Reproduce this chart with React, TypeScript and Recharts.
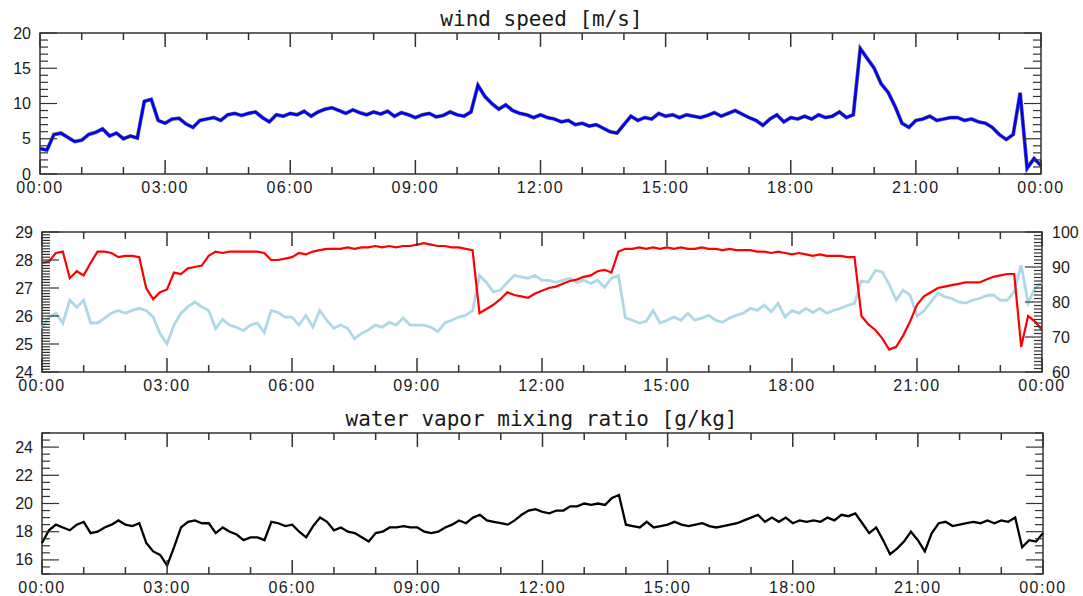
import React from 'react';
import { LineChart, Line, XAxis, YAxis, ReferenceArea } from 'recharts';

// 10-minute samples, 00:00 .. 24:00 (145 values each)
const windSpeed = [
  3.6, 3.4, 5.6, 5.8, 5.2, 4.6,
  4.8, 5.6, 5.9, 6.4, 5.4, 5.8,
  5.0, 5.4, 5.1, 10.3, 10.6, 7.6,
  7.2, 7.8, 7.9, 7.1, 6.6, 7.6,
  7.8, 8.0, 7.6, 8.4, 8.6, 8.3,
  8.6, 8.8, 8.0, 7.4, 8.4, 8.2,
  8.6, 8.4, 8.9, 8.2, 8.8, 9.2,
  9.4, 9.0, 8.6, 9.1, 8.7, 8.4,
  8.8, 8.5, 8.9, 8.2, 8.7, 8.4,
  8.0, 8.4, 8.6, 8.1, 8.3, 8.8,
  8.4, 8.2, 8.8, 12.6, 11.0, 10.0,
  9.2, 9.8, 9.0, 8.6, 8.4, 8.0,
  8.4, 8.0, 7.8, 7.4, 7.6, 7.0,
  7.2, 6.8, 7.0, 6.5, 6.0, 5.8,
  7.0, 8.2, 7.6, 8.0, 7.8, 8.6,
  8.2, 8.4, 8.0, 8.4, 8.2, 8.0,
  8.3, 8.7, 8.2, 8.6, 9.0, 8.5,
  8.0, 7.6, 6.9, 7.8, 8.4, 7.4,
  8.0, 7.8, 8.2, 7.8, 8.4, 8.0,
  8.2, 8.8, 8.0, 8.4, 17.8, 16.4,
  15.0, 12.8, 11.6, 9.6, 7.2, 6.6,
  7.6, 7.8, 8.2, 7.6, 7.8, 8.0,
  8.0, 7.6, 7.8, 7.4, 7.2, 6.6,
  5.6, 4.9, 5.6, 11.5, 0.8, 2.2,
  1.2,
];

const airTemp = [
  27.9, 27.95, 28.25, 28.3, 27.35, 27.6,
  27.45, 27.9, 28.3, 28.3, 28.25, 28.1,
  28.15, 28.15, 28.1, 27.0, 26.6, 26.85,
  26.95, 27.55, 27.5, 27.7, 27.75, 27.8,
  28.15, 28.3, 28.25, 28.3, 28.3, 28.3,
  28.3, 28.3, 28.25, 28.0, 28.0, 28.05,
  28.1, 28.25, 28.2, 28.3, 28.35, 28.4,
  28.4, 28.4, 28.45, 28.4, 28.45, 28.45,
  28.5, 28.45, 28.5, 28.45, 28.5, 28.5,
  28.55, 28.6, 28.55, 28.5, 28.5, 28.45,
  28.45, 28.4, 28.35, 26.1, 26.25, 26.4,
  26.6, 26.85, 26.75, 26.7, 26.65, 26.8,
  26.9, 27.0, 27.05, 27.15, 27.25, 27.3,
  27.4, 27.45, 27.6, 27.65, 27.55, 28.3,
  28.4, 28.4, 28.45, 28.4, 28.45, 28.4,
  28.45, 28.4, 28.45, 28.4, 28.4, 28.45,
  28.4, 28.4, 28.35, 28.4, 28.35, 28.35,
  28.35, 28.3, 28.3, 28.25, 28.3, 28.25,
  28.2, 28.25, 28.2, 28.15, 28.2, 28.15,
  28.15, 28.15, 28.1, 28.1, 26.0, 25.7,
  25.5, 25.2, 24.8, 24.9, 25.3, 25.8,
  26.4, 26.7, 26.85, 27.0, 27.05, 27.1,
  27.15, 27.2, 27.2, 27.2, 27.3, 27.4,
  27.45, 27.5, 27.5, 24.9, 26.0, 25.8,
  25.5,
];

const relHumidity = [
  72.5, 75.7, 76.8, 74.0, 80.5, 78.5,
  80.5, 74.0, 74.0, 75.4, 76.8, 77.6,
  76.8, 77.6, 78.2, 77.6, 75.7, 71.0,
  68.0, 73.4, 76.8, 78.6, 80.0, 78.6,
  77.6, 72.4, 75.0, 73.4, 72.8, 71.8,
  73.4, 74.0, 71.3, 77.6, 77.0, 75.7,
  75.7, 73.4, 76.2, 72.8, 77.6, 74.8,
  72.5, 73.4, 72.5, 69.5, 71.0, 72.0,
  73.4, 72.8, 74.2, 73.4, 75.4, 73.4,
  73.4, 73.4, 72.8, 71.5, 74.0, 74.8,
  75.7, 76.2, 77.5, 87.6, 85.6, 82.8,
  83.4, 85.6, 87.6, 87.2, 86.8, 87.6,
  86.2, 86.2, 85.6, 86.2, 86.8, 85.6,
  86.2, 85.3, 86.2, 84.2, 86.8, 87.6,
  75.5, 74.8, 74.0, 74.5, 77.5, 74.0,
  74.8, 75.7, 74.8, 76.8, 74.8, 75.4,
  76.2, 74.8, 74.2, 75.4, 76.2, 76.8,
  78.2, 77.6, 79.1, 77.2, 79.6, 75.7,
  77.6, 76.8, 78.2, 77.0, 78.2, 76.8,
  77.6, 78.2, 79.0, 79.6, 86.0, 85.7,
  89.0, 88.6, 85.0, 80.5, 83.4, 82.0,
  76.0, 77.5, 80.0, 82.5, 81.5, 81.0,
  80.0, 79.7, 80.5, 81.0, 81.8, 82.0,
  80.5, 80.5, 83.0, 90.5, 79.7, 84.0,
  85.4,
];

const mixingRatio = [
  17.2, 18.1, 18.5, 18.3, 18.1, 18.5,
  18.7, 17.9, 18.0, 18.3, 18.5, 18.8,
  18.5, 18.4, 18.6, 17.2, 16.6, 16.35,
  15.6, 16.9, 18.3, 18.7, 18.8, 18.6,
  18.6, 17.9, 18.3, 18.0, 17.8, 17.4,
  17.6, 17.6, 17.4, 18.7, 18.6, 18.4,
  18.5, 18.0, 17.6, 18.4, 19.0, 18.7,
  18.1, 18.3, 18.0, 17.9, 17.6, 17.3,
  17.9, 18.0, 18.3, 18.3, 18.4, 18.3,
  18.3, 18.0, 17.9, 18.0, 18.3, 18.5,
  18.8, 18.6, 19.0, 19.2, 18.8, 18.7,
  18.6, 18.5, 18.8, 19.2, 19.5, 19.6,
  19.4, 19.3, 19.5, 19.5, 19.8, 19.8,
  20.0, 19.9, 20.0, 19.9, 20.4, 20.6,
  18.5, 18.4, 18.3, 18.7, 18.3, 18.4,
  18.5, 18.7, 18.5, 18.4, 18.5, 18.6,
  18.4, 18.3, 18.4, 18.5, 18.6, 18.8,
  19.0, 19.2, 18.7, 19.0, 18.7, 19.0,
  18.6, 18.8, 18.7, 18.8, 18.7, 19.0,
  18.8, 19.2, 19.1, 19.3, 18.6, 17.9,
  18.3, 17.4, 16.4, 16.8, 17.3, 18.0,
  17.4, 16.6, 17.9, 18.6, 18.7, 18.4,
  18.5, 18.6, 18.7, 18.6, 18.8, 18.6,
  18.8, 18.7, 19.0, 16.9, 17.4, 17.3,
  17.9,
];

const STEP = 10; // minutes
const data = windSpeed.map((ws, i) => ({
  t: i * STEP,
  ws,
  temp: airTemp[i],
  rh: relHumidity[i],
  q: mixingRatio[i],
}));

const hourTicks = Array.from({ length: 25 }, (_, i) => i * 60);
const steps = (lo: number, hi: number, d: number) =>
  Array.from({ length: Math.round((hi - lo) / d) + 1 }, (_, i) => Math.round((lo + i * d) * 100) / 100);

const fmtTime = (m: number) => `${String(Math.floor(m / 60) % 24).padStart(2, '0')}:00`;

const W = 1083;
const FRAME = '#333';
const INK = '#1a1a1a';
const FONT = '"Liberation Sans", Arial, sans-serif';

const near = (v: number, step: number) => Math.abs(v / step - Math.round(v / step)) < 1e-6;

// bottom axis ticks drawn inward, mirrored on the top edge
const makeXTick = (plotTop: number) => (props: any) => {
  const { x, y, payload } = props;
  const major = payload.value % 180 === 0;
  const len = major ? 14 : 7;
  return (
    <g>
      <line x1={x} x2={x} y1={y} y2={y - len} stroke={FRAME} strokeWidth={1.5} />
      <line x1={x} x2={x} y1={plotTop} y2={plotTop + len} stroke={FRAME} strokeWidth={1.5} />
      {major && (
        <text x={x} y={y + 18.5} textAnchor="middle" fontSize={16} fontFamily={FONT} fill={INK} letterSpacing={1.5}>
          {fmtTime(payload.value)}
        </text>
      )}
    </g>
  );
};

interface YTickOpts {
  side: 'left' | 'right';
  major: number;
  label: number;
  mirrorX?: number;
  majorLen?: number;
  minorLen?: number;
}

const makeYTick = ({ side, major, label, mirrorX, majorLen = 17, minorLen = 8 }: YTickOpts) => (props: any) => {
  const { x, y, payload } = props;
  const v = payload.value;
  const len = near(v, major) ? majorLen : minorLen;
  const dir = side === 'left' ? 1 : -1;
  return (
    <g>
      <line x1={x} x2={x + dir * len} y1={y} y2={y} stroke={FRAME} strokeWidth={1.2} />
      {mirrorX !== undefined && (
        <line x1={mirrorX} x2={mirrorX - dir * len} y1={y} y2={y} stroke={FRAME} strokeWidth={1.2} />
      )}
      {near(v, label) && (
        <text
          x={side === 'left' ? x - 9 : x + 10}
          y={y + 5.5}
          textAnchor={side === 'left' ? 'end' : 'start'}
          fontSize={16}
          fontFamily={FONT}
          fill={INK}
        >
          {Math.round(v)}
        </text>
      )}
    </g>
  );
};

const titleStyle: React.CSSProperties = {
  position: 'absolute',
  left: 0,
  width: W,
  textAlign: 'center',
  fontFamily: '"DejaVu Sans Mono", monospace',
  fontSize: 21,
  lineHeight: '21px',
  color: INK,
};

const xAxisCommon = {
  dataKey: 't',
  type: 'number' as const,
  domain: [0, 1440],
  ticks: hourTicks,
  interval: 0 as const,
  tickLine: false,
  axisLine: false,
  tickSize: 0,
  tickMargin: 0,
};

export default function App() {
  return (
    <div style={{ position: 'absolute', left: 0, top: 0, width: W, height: 596, background: '#fff' }}>
      <div style={{ ...titleStyle, top: 9 }}>wind speed [m/s]</div>
      <div style={{ ...titleStyle, top: 409 }}>water vapor mixing ratio [g/kg]</div>

      {/* wind speed */}
      <div style={{ position: 'absolute', left: 0, top: 0 }}>
        <LineChart width={W} height={200} data={data} margin={{ top: 33, right: 42, bottom: 0, left: 0 }}>
          <XAxis {...xAxisCommon} height={26} tick={makeXTick(33)} />
          <YAxis
            type="number"
            domain={[0, 20]}
            ticks={steps(0, 20, 1)}
            interval={0}
            width={40}
            tickLine={false}
            axisLine={false}
            tickSize={0}
            tickMargin={0}
            tick={makeYTick({ side: 'left', major: 5, label: 5, mirrorX: W - 42 })}
          />
          <ReferenceArea x1={0} x2={1440} y1={0} y2={20} fill="none" stroke={FRAME} strokeWidth={1.5} />
          <Line dataKey="ws" stroke="#6f6f6f" strokeWidth={3.8} dot={false} activeDot={false} isAnimationActive={false} />
          <Line dataKey="ws" stroke="#0000ff" strokeWidth={2.6} dot={false} activeDot={false} isAnimationActive={false} />
        </LineChart>
      </div>

      {/* temperature (left) and relative humidity (right) */}
      <div style={{ position: 'absolute', left: 0, top: 200 }}>
        <LineChart width={W} height={200} data={data} margin={{ top: 32, right: 0, bottom: 0, left: 0 }}>
          <XAxis {...xAxisCommon} height={28} tick={makeXTick(32)} />
          <YAxis
            yAxisId="temp"
            type="number"
            domain={[24, 29]}
            ticks={steps(24, 29, 0.1)}
            interval={0}
            width={42}
            tickLine={false}
            axisLine={false}
            tickSize={0}
            tickMargin={0}
            tick={makeYTick({ side: 'left', major: 1, label: 1 })}
          />
          <YAxis
            yAxisId="rh"
            orientation="right"
            type="number"
            domain={[60, 100]}
            ticks={steps(60, 100, 1)}
            interval={0}
            width={41}
            tickLine={false}
            axisLine={false}
            tickSize={0}
            tickMargin={0}
            tick={makeYTick({ side: 'right', major: 10, label: 10 })}
          />
          <ReferenceArea yAxisId="temp" x1={0} x2={1440} y1={24} y2={29} fill="none" stroke={FRAME} strokeWidth={1.5} />
          <Line yAxisId="rh" dataKey="rh" stroke="#add8e6" strokeWidth={2.8} dot={false} activeDot={false} isAnimationActive={false} />
          <Line yAxisId="temp" dataKey="temp" stroke="#ff0000" strokeWidth={2.2} dot={false} activeDot={false} isAnimationActive={false} />
        </LineChart>
      </div>

      {/* water vapor mixing ratio */}
      <div style={{ position: 'absolute', left: 0, top: 400 }}>
        <LineChart width={W} height={196} data={data} margin={{ top: 33, right: 40, bottom: 0, left: 0 }}>
          <XAxis {...xAxisCommon} height={22} tick={makeXTick(33)} />
          <YAxis
            type="number"
            domain={[15, 25]}
            ticks={steps(15, 25, 0.5)}
            interval={0}
            width={42}
            tickLine={false}
            axisLine={false}
            tickSize={0}
            tickMargin={0}
            tick={makeYTick({ side: 'left', major: 2, label: 2, mirrorX: W - 40 })}
          />
          <ReferenceArea x1={0} x2={1440} y1={15} y2={25} fill="none" stroke={FRAME} strokeWidth={1.5} />
          <Line dataKey="q" stroke="#000" strokeWidth={2.3} dot={false} activeDot={false} isAnimationActive={false} />
        </LineChart>
      </div>
    </div>
  );
}
